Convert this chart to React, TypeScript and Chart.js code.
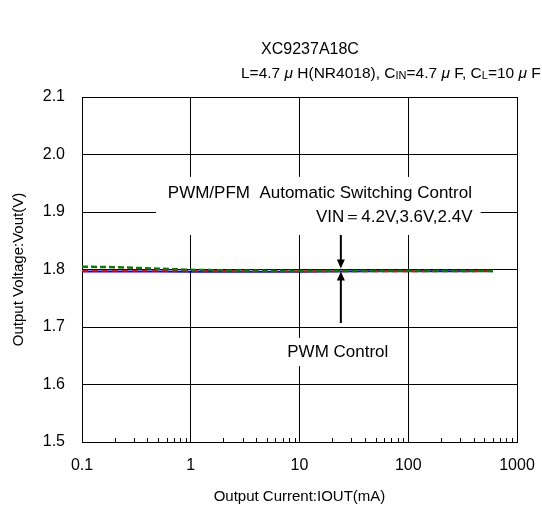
import { useEffect, useRef } from 'react';
import { Chart, registerables } from 'chart.js';

Chart.register(...registerables);

const FONT = "'Liberation Sans', Arial, sans-serif";

// Output current (mA)
const CURRENT_MA = [0.1, 0.2, 0.5, 1, 2, 5, 10, 20, 50, 100, 200, 400, 600];
// Output voltage (V) for each VIN
const VOUT_GREEN = [1.805, 1.804, 1.8015, 1.7995, 1.7985, 1.798, 1.798, 1.798, 1.798, 1.798, 1.798, 1.798, 1.7975];
const VOUT_RED = [1.798, 1.798, 1.798, 1.798, 1.7975, 1.797, 1.797, 1.797, 1.797, 1.797, 1.797, 1.797, 1.798];
const VOUT_BLUE = [1.7965, 1.7965, 1.7965, 1.796, 1.796, 1.796, 1.796, 1.7965, 1.797, 1.797, 1.797, 1.797, 1.797];

const X_TICKS = [0.1, 1, 10, 100, 1000];
const Y_MIN = 1.5;
const Y_MAX = 2.1;

const TITLE = 'XC9237A18C';
const LABEL_AUTO = 'PWM/PFM  Automatic Switching Control';
const LABEL_VIN = 'VIN＝4.2V,3.6V,2.4V';
const LABEL_PWM = 'PWM Control';

const ARROW_AT_MA = 24;

const pts = (ys: number[]) => CURRENT_MA.map((x, i) => ({ x, y: ys[i] }));

const annotPlugin = {
  id: 'annot',
  beforeDatasetsDraw(chart: any) {
    const { ctx, scales } = chart;
    const xs = scales.x;
    const ys = scales.y;
    const area = chart.chartArea;
    ctx.save();
    // white boxes behind labels
    ctx.fillStyle = '#fff';
    const box = (x0: number, x1: number, y0: number, y1: number) => {
      const px0 = xs.getPixelForValue(x0);
      const px1 = xs.getPixelForValue(x1);
      const py0 = ys.getPixelForValue(y0);
      const py1 = ys.getPixelForValue(y1);
      ctx.fillRect(px0, py0, px1 - px0, py1 - py0);
    };
    box(0.48, 463, 1.961, 1.86);
    box(7.4, 71, 1.681, 1.632);

    ctx.fillStyle = '#000';
    ctx.font = `17px ${FONT}`;
    ctx.textBaseline = 'middle';
    ctx.textAlign = 'center';
    ctx.fillText(LABEL_AUTO, xs.getPixelForValue(15.4), ys.getPixelForValue(1.933));
    ctx.textAlign = 'right';
    ctx.fillText(LABEL_VIN, xs.getPixelForValue(390), ys.getPixelForValue(1.891));
    ctx.textAlign = 'center';
    ctx.fillText(LABEL_PWM, xs.getPixelForValue(22.5), ys.getPixelForValue(1.656));

    // minor ticks (inward, bottom)
    ctx.strokeStyle = '#000';
    ctx.lineWidth = 1;
    ctx.beginPath();
    for (let d = 0.1; d < 1000; d *= 10) {
      for (let k = 2; k <= 9; k++) {
        const px = Math.round(xs.getPixelForValue(d * k)) + 0.5;
        ctx.moveTo(px, area.bottom);
        ctx.lineTo(px, area.bottom - 4);
      }
    }
    ctx.stroke();
    ctx.restore();
  },
  afterDatasetsDraw(chart: any) {
    const { ctx, scales } = chart;
    const xs = scales.x;
    const ys = scales.y;
    const px = xs.getPixelForValue(ARROW_AT_MA);
    const top = ys.getPixelForValue(1.86);
    const bot = ys.getPixelForValue(1.707);
    const tipDown = ys.getPixelForValue(1.8) - 1;
    const tipUp = ys.getPixelForValue(1.8) + 2;
    ctx.save();
    ctx.strokeStyle = '#000';
    ctx.fillStyle = '#000';
    ctx.lineWidth = 2;
    ctx.beginPath();
    ctx.moveTo(px, top);
    ctx.lineTo(px, tipDown - 8);
    ctx.moveTo(px, bot);
    ctx.lineTo(px, tipUp + 8);
    ctx.stroke();
    ctx.beginPath();
    ctx.moveTo(px, tipDown);
    ctx.lineTo(px - 4, tipDown - 9);
    ctx.lineTo(px + 4, tipDown - 9);
    ctx.closePath();
    ctx.moveTo(px, tipUp);
    ctx.lineTo(px - 4, tipUp + 9);
    ctx.lineTo(px + 4, tipUp + 9);
    ctx.closePath();
    ctx.fill();
    ctx.restore();
  },
  afterDraw(chart: any) {
    const { ctx } = chart;
    ctx.save();
    ctx.fillStyle = '#000';
    ctx.textBaseline = 'alphabetic';
    ctx.textAlign = 'center';
    ctx.font = `16px ${FONT}`;
    ctx.fillText(TITLE, 310, 54);
    // subtitle with subscripts
    const segs: [string, string, number][] = [
      ['L=4.7 ', `15.5px ${FONT}`, 0],
      ['μ', `italic 15.5px ${FONT}`, 0],
      [' H(NR4018), C', `15.5px ${FONT}`, 0],
      ['IN', `11px ${FONT}`, 1],
      ['=4.7 ', `15.5px ${FONT}`, 0],
      ['μ', `italic 15.5px ${FONT}`, 0],
      [' F, C', `15.5px ${FONT}`, 0],
      ['L', `11px ${FONT}`, 1],
      ['=10 ', `15.5px ${FONT}`, 0],
      ['μ', `italic 15.5px ${FONT}`, 0],
      [' F', `15.5px ${FONT}`, 0],
    ];
    ctx.textAlign = 'left';
    let x = 241;
    for (const [t, f, dy] of segs) {
      ctx.font = f;
      ctx.fillText(t, x, 78 + dy);
      x += ctx.measureText(t).width;
    }
    ctx.restore();
  },
};

export default function App() {
  const ref = useRef<HTMLCanvasElement>(null);
  useEffect(() => {
    if (!ref.current) return;
    const chart = new Chart(ref.current, {
      type: 'line',
      data: {
        datasets: [
          { label: 'VIN=4.2V', data: pts(VOUT_GREEN), borderColor: '#008000', borderWidth: 2.5, borderDash: [6, 3], order: 1 },
          { label: 'VIN=3.6V', data: pts(VOUT_RED), borderColor: '#ff0000', borderWidth: 2, borderDash: [6, 4], order: 2 },
          { label: 'VIN=2.4V', data: pts(VOUT_BLUE), borderColor: '#0000ff', borderWidth: 2, order: 3 },
        ],
      },
      options: {
        animation: false,
        responsive: false,
        maintainAspectRatio: false,
        elements: { point: { radius: 0 }, line: { tension: 0, fill: false } },
        layout: { padding: { top: 97, right: 25, left: 0, bottom: 0 } },
        plugins: { legend: { display: false }, tooltip: { enabled: false }, title: { display: false } },
        scales: {
          x: {
            type: 'logarithmic',
            min: 0.1,
            max: 1000,
            afterBuildTicks: (s: any) => {
              s.ticks = X_TICKS.map((v) => ({ value: v }));
            },
            afterFit: (s: any) => {
              s.height = 73;
              s.paddingRight = 0;
              s.paddingLeft = 0;
            },
            grid: { color: '#000', lineWidth: 1, drawTicks: false },
            border: { color: '#000', width: 1 },
            ticks: {
              color: '#000',
              font: { family: FONT, size: 16 },
              padding: 14,
              autoSkip: false,
              maxRotation: 0,
              callback: (v: any) => String(v),
            },
            title: {
              display: true,
              text: 'Output Current:IOUT(mA)',
              color: '#000',
              font: { family: FONT, size: 15 },
              padding: { top: 0, bottom: 9 },
            },
          },
          y: {
            min: Y_MIN,
            max: Y_MAX,
            afterFit: (s: any) => {
              s.width = 82;
            },
            grid: { color: '#000', lineWidth: 1, drawTicks: false },
            border: { color: '#000', width: 1 },
            ticks: {
              stepSize: 0.1,
              color: '#000',
              font: { family: FONT, size: 16 },
              padding: 17,
              callback: (v: any) => Number(v).toFixed(1),
            },
            title: {
              display: true,
              text: 'Output Voltage:Vout(V)',
              color: '#000',
              font: { family: FONT, size: 15 },
              padding: { top: 10, bottom: 0 },
            },
          },
        },
      },
      plugins: [annotPlugin],
    });
    return () => chart.destroy();
  }, []);
  return (
    <div style={{ position: 'fixed', left: 0, top: 0, width: 542, height: 515, background: '#fff' }}>
      <canvas ref={ref} width={542} height={515} style={{ width: 542, height: 515 }} />
    </div>
  );
}
